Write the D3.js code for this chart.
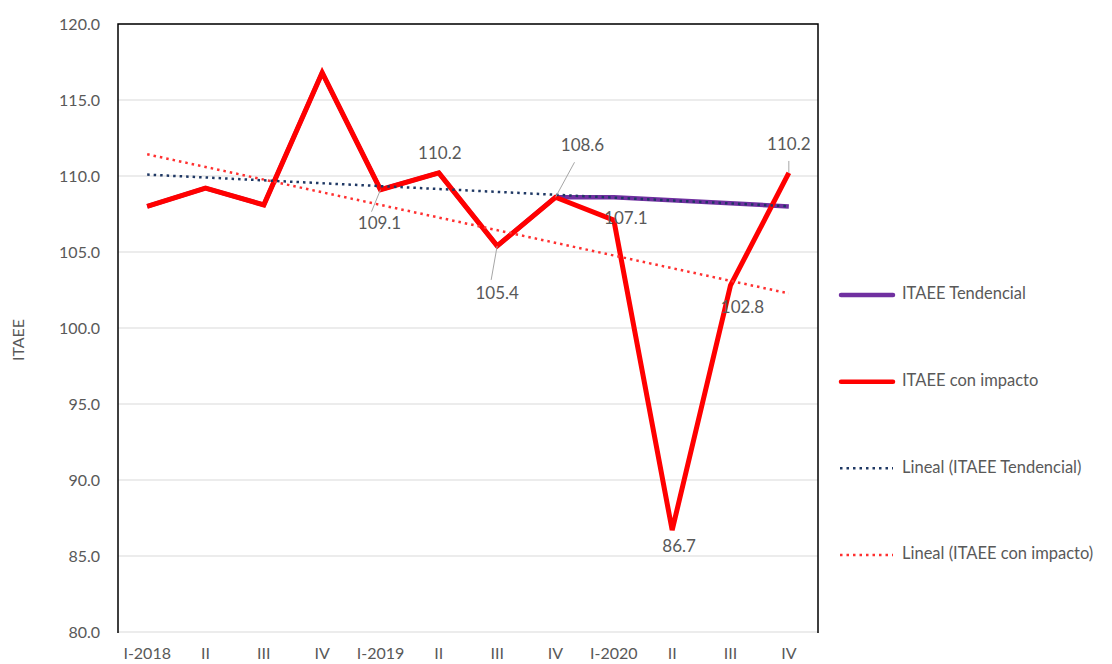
<!DOCTYPE html>
<html>
<head>
<meta charset="utf-8">
<script src="https://cdn.jsdelivr.net/npm/d3@7"></script>
<style>
  body { margin: 0; background: #fff; }
  text { font-family: Lato, "Open Sans", sans-serif; fill: #595959; }
</style>
</head>
<body>
<div id="wrapper"></div>
<script>
// data
const quarters = ["I-2018", "II", "III", "IV", "I-2019", "II", "III", "IV", "I-2020", "II", "III", "IV"]
const itaeeConImpacto = [108.0, 109.2, 108.1, 116.8, 109.1, 110.2, 105.4, 108.6, 107.1, 86.7, 102.8, 110.2]
const itaeeTendencial = [108.0, 109.2, 108.1, 116.8, 109.1, 110.2, 105.4, 108.6, 108.6, 108.4, 108.2, 108.0]
const yTicks = [80, 85, 90, 95, 100, 105, 110, 115, 120]
const legendNames = ["ITAEE Tendencial", "ITAEE con impacto", "Lineal (ITAEE Tendencial)", "Lineal (ITAEE con impacto)"]

// which points get a value label, and where it sits (offset from the point)
const labelLayout = [
  { i: 4, dx: -1, dy: 35, leader: [-9, 22] },
  { i: 5, dx: 1, dy: -18 },
  { i: 6, dx: 0, dy: 49, leader: [-6, 34] },
  { i: 7, dx: 27, dy: -51, leader: [19, -35] },
  { i: 8, dx: 12, dy: 0 },
  { i: 9, dx: 7, dy: 18 },
  { i: 10, dx: 12, dy: 23 },
  { i: 11, dx: 0, dy: -27, leader: [0, -12] },
]

function drawChart() {
  const width = 1112
  const height = 664
  const plot = { left: 118, right: 818, top: 24, bottom: 632 }

  const svg = d3.select("#wrapper")
    .append("svg")
      .attr("width", width)
      .attr("height", height)

  const xScale = d3.scaleBand()
    .domain(d3.range(quarters.length))
    .range([plot.left, plot.right])
  const xPos = i => xScale(i) + xScale.bandwidth() / 2

  const yScale = d3.scaleLinear()
    .domain([80, 120])
    .range([plot.bottom, plot.top])

  // gridlines
  svg.append("g")
    .selectAll("line")
    .data(yTicks)
    .join("line")
      .attr("x1", plot.left)
      .attr("x2", plot.right)
      .attr("y1", d => yScale(d))
      .attr("y2", d => yScale(d))
      .attr("stroke", "#d9d9d9")
      .attr("stroke-width", 1.2)

  // border (top, left, right)
  svg.append("path")
    .attr("d", `M${plot.left},${plot.bottom + 1}V${plot.top}H${plot.right}V${plot.bottom + 1}`)
    .attr("fill", "none")
    .attr("stroke", "#000")
    .attr("stroke-width", 1.5)

  // y axis
  const yAxis = d3.axisLeft(yScale)
    .tickValues(yTicks)
    .tickFormat(d3.format(".1f"))
    .tickSize(0)
    .tickPadding(18)
  const yAxisGroup = svg.append("g")
    .attr("transform", `translate(${plot.left},0)`)
    .call(yAxis)
  yAxisGroup.select(".domain").remove()
  yAxisGroup.selectAll("text")
    .attr("font-size", 16)
    .attr("font-family", null)
    .attr("fill", "#595959")

  svg.append("text")
    .attr("transform", `translate(24,${(plot.top + plot.bottom) / 2 + 12}) rotate(-90)`)
    .attr("text-anchor", "middle")
    .attr("font-size", 16)
    .text("ITAEE")

  // x axis
  const xAxis = d3.axisBottom(xScale)
    .tickFormat(i => quarters[i])
    .tickSize(0)
    .tickPadding(16)
  const xAxisGroup = svg.append("g")
    .attr("transform", `translate(0,${plot.bottom})`)
    .call(xAxis)
  xAxisGroup.select(".domain").remove()
  xAxisGroup.selectAll("text")
    .attr("font-size", 16)
    .attr("font-family", null)
    .attr("fill", "#595959")

  // lines
  const line = d3.line()
    .x((d, i) => xPos(i))
    .y(d => yScale(d))

  svg.append("path")
    .datum(itaeeTendencial)
    .attr("d", line)
    .attr("fill", "none")
    .attr("stroke", "#7030a0")
    .attr("stroke-width", 4.5)
    .attr("stroke-linejoin", "round")

  svg.append("path")
    .datum(itaeeConImpacto)
    .attr("d", line)
    .attr("fill", "none")
    .attr("stroke", "#ff0000")
    .attr("stroke-width", 5)
    .attr("stroke-linejoin", "miter")

  // linear trendlines (least squares on the series)
  function fit(values) {
    const xs = values.map((d, i) => i)
    const mx = d3.mean(xs)
    const my = d3.mean(values)
    const slope = d3.sum(xs, (x, i) => (x - mx) * (values[i] - my)) / d3.sum(xs, x => (x - mx) ** 2)
    const last = xs.length - 1
    return [[0, my - slope * mx], [last, my + slope * (last - mx)]]
  }
  const trends = [
    { ends: fit(itaeeTendencial), color: "#1f3864" },
    { ends: fit(itaeeConImpacto), color: "#ff3030" },
  ]
  const trendLine = d3.line()
    .x(d => xPos(d[0]))
    .y(d => yScale(d[1]))
  svg.append("g")
    .selectAll("path")
    .data(trends)
    .join("path")
      .attr("d", d => trendLine(d.ends))
      .attr("fill", "none")
      .attr("stroke", d => d.color)
      .attr("stroke-width", 2.5)
      .attr("stroke-dasharray", "2.5,4")

  // data labels
  const labels = svg.append("g")
  labelLayout.forEach(l => {
    const px = xPos(l.i)
    const py = yScale(itaeeConImpacto[l.i])
    if (l.leader) {
      labels.append("line")
        .attr("x1", px)
        .attr("y1", py)
        .attr("x2", px + l.leader[0])
        .attr("y2", py + l.leader[1])
        .attr("stroke", "#a6a6a6")
        .attr("stroke-width", 1)
    }
    labels.append("text")
      .attr("x", px + l.dx)
      .attr("y", py + l.dy)
      .attr("text-anchor", "middle")
      .attr("dominant-baseline", "middle")
      .attr("font-size", 17)
      .attr("fill", "#404040")
      .text(d3.format(".1f")(itaeeConImpacto[l.i]))
  })

  // legend
  const legendStyles = [
    { color: "#7030a0", width: 4.5, dash: null },
    { color: "#ff0000", width: 4.5, dash: null },
    { color: "#1f3864", width: 2.5, dash: "2.5,4" },
    { color: "#ff3030", width: 2.5, dash: "2.5,4" },
  ]
  const legendY = d3.scalePoint()
    .domain(legendNames)
    .range([295, 555])
  const legend = svg.append("g")
    .selectAll("g")
    .data(legendNames)
    .join("g")
      .attr("transform", d => `translate(0,${legendY(d)})`)
  legend.append("line")
    .attr("x1", (d, i) => legendStyles[i].dash ? 840 : 841)
    .attr("x2", 893)
    .attr("stroke", (d, i) => legendStyles[i].color)
    .attr("stroke-width", (d, i) => legendStyles[i].width)
    .attr("stroke-linecap", (d, i) => legendStyles[i].dash ? "butt" : "round")
    .attr("stroke-dasharray", (d, i) => legendStyles[i].dash)
  legend.append("text")
    .attr("x", 902)
    .attr("dominant-baseline", "middle")
    .attr("font-size", 16.5)
    .text(d => d)
}

drawChart()
</script>
</body>
</html>
